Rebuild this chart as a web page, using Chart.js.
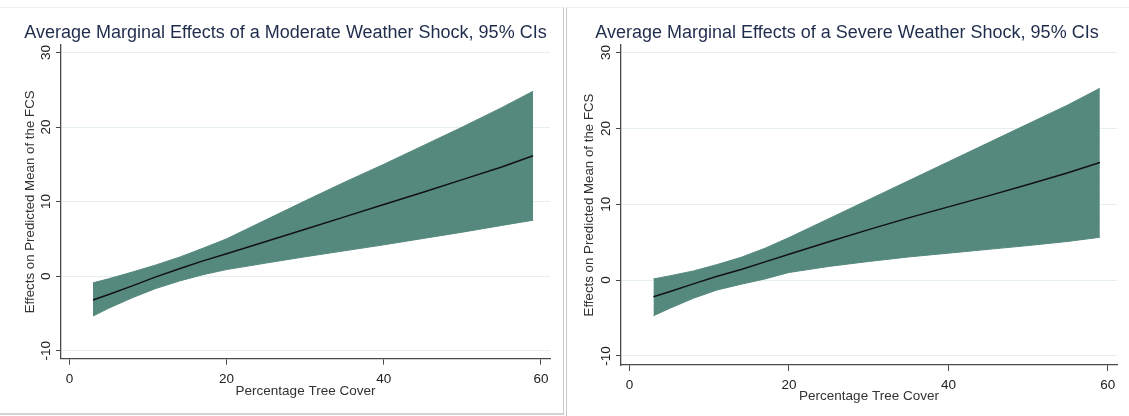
<!DOCTYPE html>
<html>
<head>
<meta charset="utf-8">
<script src="https://cdn.jsdelivr.net/npm/chart.js@4/dist/chart.umd.min.js"></script>
<style>
  body { margin: 0; background: #fff; width: 1129px; height: 416px; position: relative; overflow: hidden; }
  .frame { position: absolute; box-sizing: border-box; }
  #leftFrame { left: 0; top: 7px; width: 564px; height: 408px; border-top: 1px solid #eef0f0; border-right: 1px solid #c9c9c9; border-bottom: 2px solid #d4d4d4; }
  #rightFrame { left: 566px; top: 7px; width: 563px; height: 409px; border-top: 1px solid #eef0f0; border-left: 1px solid #c9c9c9; }
  canvas { position: absolute; top: 0; }
</style>
</head>
<body>
<div class="frame" id="leftFrame"></div>
<div class="frame" id="rightFrame"></div>
<canvas id="moderate" width="562" height="400" style="left:0"></canvas>
<canvas id="severe" width="563" height="410" style="left:566px"></canvas>
<script>
// percentage tree cover at which margins were evaluated
const treeCover = [3, 5, 8, 11, 14, 17, 20, 25, 30, 35, 40, 45, 50, 55, 59];

// moderate weather shock
const modMean  = [-3.2, -2.45, -1.3, -0.1, 1.0, 2.05, 3.0, 4.65, 6.3, 7.95, 9.6, 11.25, 12.95, 14.65, 16.15];
const modUpper = [-0.9, -0.35, 0.55, 1.5, 2.55, 3.75, 5.0, 7.55, 10.1, 12.6, 15.0, 17.5, 20.0, 22.6, 24.8];
const modLower = [-5.35, -4.3, -2.9, -1.65, -0.65, 0.2, 0.88, 1.75, 2.6, 3.4, 4.2, 5.05, 5.9, 6.8, 7.5];

// severe weather shock
const sevMean  = [-2.2, -1.55, -0.5, 0.5, 1.4, 2.4, 3.4, 5.05, 6.65, 8.2, 9.65, 11.1, 12.6, 14.15, 15.5];
const sevUpper = [0.15, 0.55, 1.2, 2.05, 3.0, 4.2, 5.6, 8.1, 10.6, 13.1, 15.6, 18.1, 20.6, 23.1, 25.3];
const sevLower = [-4.7, -3.75, -2.4, -1.3, -0.55, 0.15, 1.0, 1.8, 2.45, 3.05, 3.55, 4.05, 4.55, 5.1, 5.64];

const xTicks = [0, 20, 40, 60];
const yTicks = [-10, 0, 10, 20, 30];

const bandColor = '#56897e';
const axisColor = '#4a4a4a';

Chart.defaults.font.family = '"Liberation Sans", Arial, sans-serif';
Chart.defaults.color = '#333';

const panelTitle = {
  id: 'panelTitle',
  afterDraw(chart, args, opts) {
    const ctx = chart.ctx;
    ctx.save();
    ctx.font = '18px "Liberation Sans", Arial, sans-serif';
    ctx.fillStyle = '#1f2c4c';
    ctx.textAlign = 'center';
    ctx.textBaseline = 'middle';
    ctx.fillText(opts.text, opts.x, opts.y);
    ctx.restore();
  }
};

function pts(ys) {
  return treeCover.map((x, i) => ({x: x, y: ys[i]}));
}

function makeChart(id, title, mean, upper, lower, cfg) {
  return new Chart(document.getElementById(id), {
    type: 'line',
    data: {
      datasets: [
        { label: 'Effect', data: pts(mean), borderColor: '#111', borderWidth: 1.5,
          pointRadius: 0, fill: false },
        { label: 'Upper', data: pts(upper), borderColor: bandColor, borderWidth: 1,
          backgroundColor: bandColor, pointRadius: 0, fill: '+1' },
        { label: 'Lower', data: pts(lower), borderColor: bandColor, borderWidth: 1,
          pointRadius: 0, fill: false }
      ]
    },
    options: {
      responsive: false,
      animation: false,
      layout: { padding: { top: 45, right: cfg.padRight, left: 0, bottom: 0 } },
      plugins: {
        legend: { display: false },
        tooltip: { enabled: false },
        panelTitle: { text: title, x: cfg.titleX, y: 33.5 }
      },
      scales: {
        x: {
          type: 'linear',
          min: -1.07, max: 61.15,
          afterBuildTicks: (s) => { s.ticks = xTicks.map(v => ({value: v})); },
          afterFit: (s) => { s.height = cfg.xAxisHeight; s.paddingLeft = 0; s.paddingRight = 0; },
          grid: { drawOnChartArea: false, tickLength: 6, tickColor: axisColor },
          border: { color: axisColor, width: 1.3 },
          ticks: { padding: 6, maxRotation: 0, font: { size: 13.5 }, color: '#222' },
          title: { display: true, text: 'Percentage Tree Cover', font: { size: 13.5 },
                   color: '#333', padding: { top: 0, bottom: cfg.xTitlePad } }
        },
        y: {
          min: cfg.yMin, max: 31,
          afterBuildTicks: (s) => { s.ticks = yTicks.map(v => ({value: v})); },
          afterFit: (s) => { s.width = cfg.yAxisWidth; s.paddingTop = 0; s.paddingBottom = 0; },
          grid: { color: '#e6eff0', lineWidth: 1, tickLength: 5, tickColor: axisColor },
          border: { color: axisColor, width: 1.3 },
          ticks: { padding: 0, minRotation: 90, maxRotation: 90, crossAlign: 'center',
                   font: { size: 13.5 }, color: '#222' },
          title: { display: true, text: 'Effects on Predicted Mean of the FCS',
                   font: { size: 13.3 }, color: '#333', padding: { top: cfg.yTitlePad, bottom: 0 } }
        }
      }
    },
    plugins: [panelTitle]
  });
}

makeChart('moderate', 'Average Marginal Effects of a Moderate Weather Shock, 95% CIs',
  modMean, modUpper, modLower,
  { padRight: 12, titleX: 285.5, xAxisHeight: 41.3, xTitlePad: 1, yAxisWidth: 61, yTitlePad: 22, yMin: -11.07 });

makeChart('severe', 'Average Marginal Effects of a Severe Weather Shock, 95% CIs',
  sevMean, sevUpper, sevLower,
  { padRight: 12, titleX: 281, xAxisHeight: 45, xTitlePad: 5.5, yAxisWidth: 55, yTitlePad: 15.5, yMin: -11.2 });
</script>
</body>
</html>
